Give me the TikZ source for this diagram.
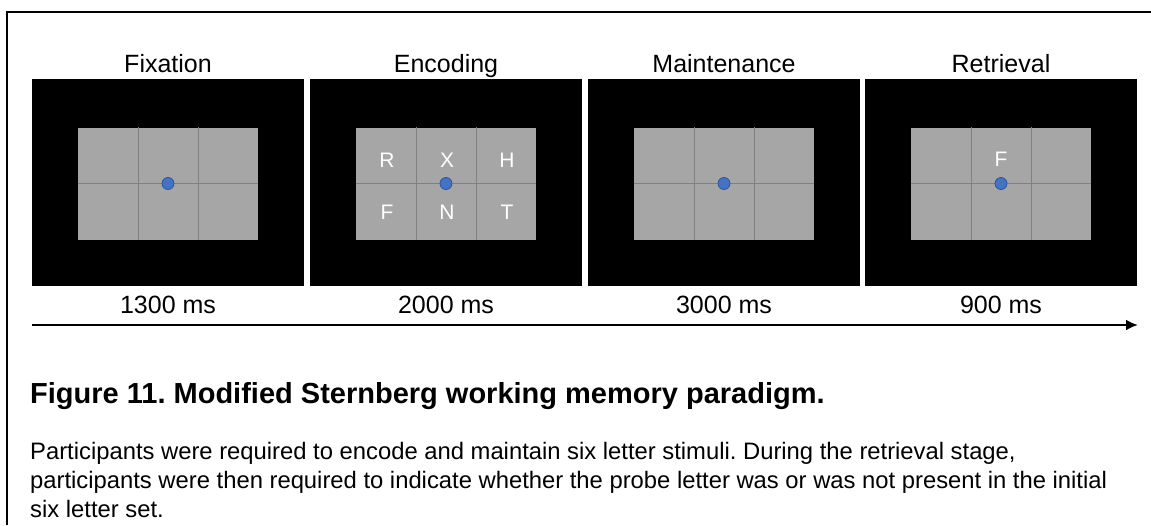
\documentclass[tikz,border=0pt]{standalone}
\usepackage{fontspec}
\setmainfont{Liberation Sans}
\frenchspacing
\usetikzlibrary{positioning,arrows.meta}
\definecolor{stimgray}{HTML}{A6A6A6}
\definecolor{gridline}{HTML}{808080}
\definecolor{dotblue}{HTML}{4472C4}
\definecolor{dotedge}{HTML}{2F5597}
\tikzstyle{screen} = [rectangle, fill=black, minimum width=272pt, minimum height=207pt, inner sep=0pt]
\tikzstyle{stim} = [rectangle, fill=stimgray, minimum width=180pt, minimum height=112pt, inner sep=0pt]
\tikzstyle{fixdot} = [circle, fill=dotblue, draw=dotedge, line width=0.8pt, minimum size=12pt, inner sep=0pt]
\tikzstyle{letter} = [text=white, font=\fontsize{21}{25}\selectfont, inner sep=0pt]
\tikzstyle{stage} = [font=\fontsize{25}{30}\selectfont, anchor=base, inner sep=0pt]
\tikzstyle{arrow} = [line width=2.5pt, -{Latex[length=12pt,width=11pt]}]
\begin{document}
\begin{tikzpicture}[x=1pt,y=-1pt]
\useasboundingbox (0,0) rectangle (1151,525);
\draw[line width=2pt] (7,525) -- (7,12) -- (1151,12);
\foreach \n/\cx/\name/\ms in {fix/168/Fixation/1300, enc/446/Encoding/2000, mnt/724/Maintenance/3000, ret/1001/Retrieval/900} {
	\node[screen] (\n) at (\cx,182.5) {};
	\node[stim] (\n-g) at (\cx,183.5) {};
	\draw[gridline, line width=1pt] ([xshift=-30pt]\n-g.north) -- ([xshift=-30pt]\n-g.south);
	\draw[gridline, line width=1pt] ([xshift=30pt]\n-g.north) -- ([xshift=30pt]\n-g.south);
	\draw[gridline, line width=1pt] (\n-g.west) -- (\n-g.east);
	\node[fixdot] (\n-dot) at (\n-g) {};
	\node[stage] (\n-title) at (\cx,72) {\name};
	\node[stage] (\n-time) at (\cx,313) {\ms\ ms};
}
\node[letter] (r) at (387,160) {R};
\node[letter] (x) at (447,160) {X};
\node[letter] (h) at (507,160) {H};
\node[letter] (f) at (387,212) {F};
\node[letter] (n) at (447,212) {N};
\node[letter] (t) at (507,212) {T};
\node[letter] (probe) at (1001,159) {F};
\coordinate (tstart) at (32,325);
\coordinate (tend) at (1138,325);
\draw[arrow] (tstart) -- (tend);
\node[anchor=base west, inner sep=0pt, font=\bfseries\fontsize{29}{34}\selectfont] (caption) at (30,403) {Figure 11. Modified Sternberg working memory paradigm.};
\node[anchor=base west, inner sep=0pt, align=left, font=\fontsize{23.8}{29}\selectfont] (legend) at (30,517) {Participants were required to encode and maintain six letter stimuli. During the retrieval stage,\\participants were then required to indicate whether the probe letter was or was not present in the initial\\six letter set.};
\end{tikzpicture}
\end{document}
